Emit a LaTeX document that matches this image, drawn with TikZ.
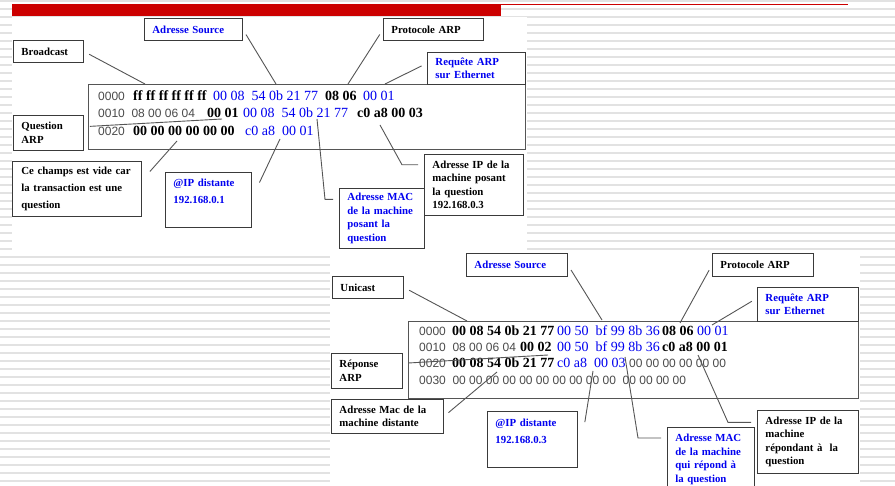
\documentclass[tikz,border=0pt]{standalone}
\usepackage{fontspec}
\setmainfont{Liberation Serif}
\setsansfont{Liberation Sans}
\usetikzlibrary{calc}
\definecolor{frame}{HTML}{3A3A3A}
\definecolor{wire}{HTML}{555555}
\definecolor{hexgray}{HTML}{4A4A4A}
\definecolor{accent}{HTML}{0000F0}
\definecolor{barred}{HTML}{CC0000}
\definecolor{stripe}{HTML}{E2E2E2}
\tikzset{
  lbl/.style={draw=frame, line width=0.9pt, fill=white, anchor=north west, align=left,
    inner xsep=8pt, inner ysep=2pt, font=\bfseries\fontsize{10.8}{13.5}\selectfont},
  lblb/.style={lbl, text=accent},
  wide/.style={font=\bfseries\fontsize{10.8}{17}\selectfont},
  hexbox/.style={draw=wire, line width=1.4pt, fill=white, anchor=north west, inner sep=0pt},
  con/.style={draw=wire, line width=0.9pt, shorten <=6pt},
  hexg/.style={anchor=base west, inner sep=0pt, text=hexgray, font=\sffamily\fontsize{12}{14}\selectfont},
  hexk/.style={anchor=base west, inner sep=0pt, text=black, font=\bfseries\fontsize{14}{16}\selectfont},
  hexb/.style={anchor=base west, inner sep=0pt, text=accent, font=\fontsize{14}{16}\selectfont},
}

\begin{document}
\begin{tikzpicture}[x=1pt, y=-1pt]
  \useasboundingbox (0,0) rectangle (895,486);
  \foreach \y in {1,9,...,489}
    \draw[stripe, line width=1.6pt] (0,\y) -- (895,\y);
  \fill[white] (12,17) rectangle (527,250);
  \fill[white] (330,250) rectangle (860,486);
  \fill[barred] (12,4.3) rectangle (501,15.7);
  \draw[barred, line width=1.2pt] (501,4.6) -- (848,4.6);

  % trames
  \node[hexbox, minimum width=437pt, minimum height=65pt] (hex1) at (88,84) {};
  \node[hexbox, minimum width=450pt, minimum height=77pt] (hex2) at (408,321) {};

  % requete
  \node[lblb, text width=82pt, minimum height=22pt] (src1) at (144,18) {Adresse Source};
  \node[lbl, text width=54pt, minimum height=22pt] (bcast) at (13,40) {Broadcast};
  \node[lbl, text width=84pt, minimum height=22pt] (proto1) at (383,18) {Protocole ARP};
  \node[lblb, text width=82pt, minimum height=32pt] (req1) at (427,52) {Requête ARP\\sur Ethernet};
  \node[lbl, text width=54pt, minimum height=35pt] (quest) at (13,115) {Question\\ARP};
  \node[lbl, wide, text width=111pt, inner xsep=9pt, minimum height=55pt] (vide) at (12,161)
    {Ce champs est vide car\\la transaction est une\\question};
  \node[lblb, wide, text width=70pt, minimum height=55pt] (ipd1) at (165,172) {@IP distante\\192.168.0.1\\~};
  \node[lblb, text width=69pt, minimum height=60pt] (mac1) at (339,188)
    {Adresse MAC\\de la machine\\posant la\\question};
  \node[lbl, text width=83pt, minimum height=61pt] (ip1) at (424,154)
    {Adresse IP de la\\machine posant\\la question\\192.168.0.3};

  % reponse
  \node[lblb, text width=85pt, minimum height=23pt] (src2) at (466,253) {Adresse Source};
  \node[lbl, text width=55pt, minimum height=22pt] (ucast) at (332,276) {Unicast};
  \node[lbl, text width=85pt, minimum height=23pt] (proto2) at (712,253) {Protocole ARP};
  \node[lblb, text width=85pt, minimum height=34pt] (req2) at (757,287) {Requête ARP\\sur Ethernet};
  \node[lbl, text width=55pt, minimum height=35pt] (rep) at (331,353) {Réponse\\ARP};
  \node[lbl, text width=96pt, minimum height=34pt] (macd) at (331,399) {Adresse Mac de la\\machine distante};
  \node[lblb, wide, text width=74pt, minimum height=56pt] (ipd2) at (487,411) {@IP distante\\192.168.0.3\\~};
  \node[lblb, text width=71pt, minimum height=64pt] (mac2) at (667,427)
    {Adresse MAC\\de la machine\\qui répond à\\la question};
  \node[lbl, text width=85pt, minimum height=63pt] (ip2) at (757,410)
    {Adresse IP de la\\machine\\répondant à~~la\\question};

  % octets
  \foreach \n/\x/\y/\t in {g1/98/101/0000, g2/98/118/0010~~08 00 06 04, g3/98/136/0020,
      g4/419/336/0000, g5/419/352/0010~~08 00 06 04, g6/419/368/0020, g7/629/368/00 00 00 00 00 00,
      g8/419/385/0030~~00 00 00 00 00 00 00 00 00 00~~00 00 00 00}
    \node[hexg] (\n) at (\x,\y) {\t};
  \foreach \n/\x/\y/\t in {k1/133/101/ff ff ff ff ff ff, k2/325/101/08 06, k3/207/118/00 01,
      k4/357/118/c0 a8 00 03, k5/133/136/00 00 00 00 00 00, k6/452/336/00 08 54 0b 21 77,
      k7/662/336/08 06, k8/520/352/00 02, k9/662/352/c0 a8 00 01, k10/452/368/00 08 54 0b 21 77}
    \node[hexk] (\n) at (\x,\y) {\t};
  \foreach \n/\x/\y/\t in {b1/213/101/00 08~~54 0b 21 77, b2/363/101/00 01,
      b3/243/118/00 08~~54 0b 21 77, b4/245/136/c0 a8~~00 01, b5/557/336/00 50~~bf 99 8b 36,
      b6/697/336/00 01, b7/557/352/00 50~~bf 99 8b 36, b8/557/368/c0 a8~~00 03}
    \node[hexb] (\n) at (\x,\y) {\t};

  % fleches
  \foreach \n/\x/\y in {ebcast/145/84, esrc1/276/84, eproto1/348/84, ereq1/385/84,
      equest/222/119, evide/177/141, eipd1/280/139, emac1/317/119, eip1/380/125,
      eucast/467/321, esrc2/602/320, eproto2/680/323, ereq2/712/325, erep/548/355,
      emacd/497/372, eipd2/593/371, emac2/625/357, eip2/698/355}
    \coordinate (\n) at (\x,\y);
  \draw[con] (bcast.east) -- (ebcast);
  \draw[con] (src1.east) -- (esrc1);
  \draw[con] (proto1.west) -- (eproto1);
  \draw[con] (req1.174) -- (ereq1);
  \draw[con] (quest.10) -- (equest);
  \draw[con] ($(vide.north east)+(4,15)$) -- (evide);
  \draw[con] ($(ipd1.north east)+(5,16)$) -- (eipd1);
  \draw[con] (mac1.156) -- ++(-14,0) -- (emac1);
  \draw[con] (ip1.158) -- ++(-22,0) -- (eip1);
  \draw[con] (ucast.east) -- (eucast);
  \draw[con] (src2.east) -- (esrc2);
  \draw[con] (proto2.west) -- (eproto2);
  \draw[con] (req2.173) -- (ereq2);
  \draw[con] (rep.12) -- (erep);
  \draw[con] (macd.east) -- (emacd);
  \draw[con] ($(ipd2.north east)+(6,17)$) -- (eipd2);
  \draw[con] (mac2.154) -- ++(-29,0) -- (emac2);
  \draw[con] (ip2.159) -- ++(-29,0) -- (eip2);
\end{tikzpicture}
\end{document}
